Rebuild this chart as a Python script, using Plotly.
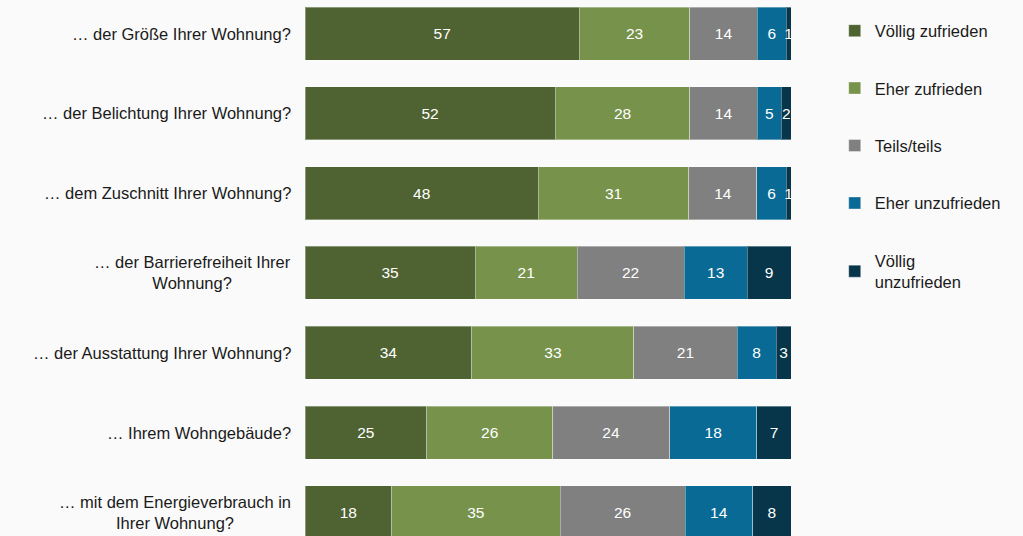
import plotly.graph_objects as go

categories = [
    "… der Größe Ihrer Wohnung?",
    "… der Belichtung Ihrer Wohnung?",
    "… dem Zuschnitt Ihrer Wohnung?",
    "… der Barrierefreiheit Ihrer<br>Wohnung?",
    "… der Ausstattung Ihrer Wohnung?",
    "… Ihrem Wohngebäude?",
    "… mit dem Energieverbrauch in<br>Ihrer Wohnung?",
]
series_names = ["Völlig zufrieden", "Eher zufrieden", "Teils/teils", "Eher unzufrieden", "Völlig<br>unzufrieden"]
voellig_zufrieden = [57, 52, 48, 35, 34, 25, 18]
eher_zufrieden = [23, 28, 31, 21, 33, 26, 35]
teils_teils = [14, 14, 14, 22, 21, 24, 26]
eher_unzufrieden = [6, 5, 6, 13, 8, 18, 14]
voellig_unzufrieden = [1, 2, 1, 9, 3, 7, 8]
colors = ["#4f6332", "#77934b", "#808080", "#0a6a96", "#073549"]

series = [voellig_zufrieden, eher_zufrieden, teils_teils, eher_unzufrieden, voellig_unzufrieden]
font_family = "Liberation Sans, Arial, sans-serif"

fig = go.Figure()
for i, (name, vals, col) in enumerate(zip(series_names, series, colors)):
    fig.add_trace(go.Bar(
        y=categories, x=vals, name=name, orientation="h",
        marker=dict(color=col, line=dict(color="rgba(255,255,255,0.35)", width=1)),
        text=[str(v) for v in vals], textposition="inside", insidetextanchor="middle",
        textfont=dict(color="white", size=15.5, family=font_family),
        legendgroup=f"g{i}", hoverinfo="skip",
    ))

for c in categories:
    fig.add_annotation(x=0, xref="paper", y=c, yref="y", text=c, showarrow=False,
                       xanchor="right", yanchor="middle", align="center", xshift=-12,
                       font=dict(size=16.5, color="#1a1a1a", family=font_family))

fig.update_layout(
    width=1023, height=536,
    barmode="stack", barnorm="percent", bargap=0.336,
    paper_bgcolor="#fafafa", plot_bgcolor="#fafafa",
    margin=dict(l=305, r=232, t=0, b=0),
    font=dict(family=font_family, size=16.5, color="#1a1a1a"),
    uniformtext=dict(mode="show", minsize=15.5),
    xaxis=dict(visible=False, range=[0, 100], fixedrange=True),
    yaxis=dict(showticklabels=False, showgrid=False, zeroline=False,
               categoryorder="array", categoryarray=categories,
               range=[6.297, -0.42]),
    legend=dict(x=1.09, xanchor="left", xref="paper", y=0.975, yanchor="top",
                traceorder="grouped", tracegroupgap=33,
                font=dict(size=16.5, color="#1a1a1a", family=font_family),
                bgcolor="rgba(0,0,0,0)", itemwidth=30),
)

fig.write_html("out.html", config={"displayModeBar": False},
               post_script="document.body.style.margin='0';document.body.style.background='#fafafa';")
